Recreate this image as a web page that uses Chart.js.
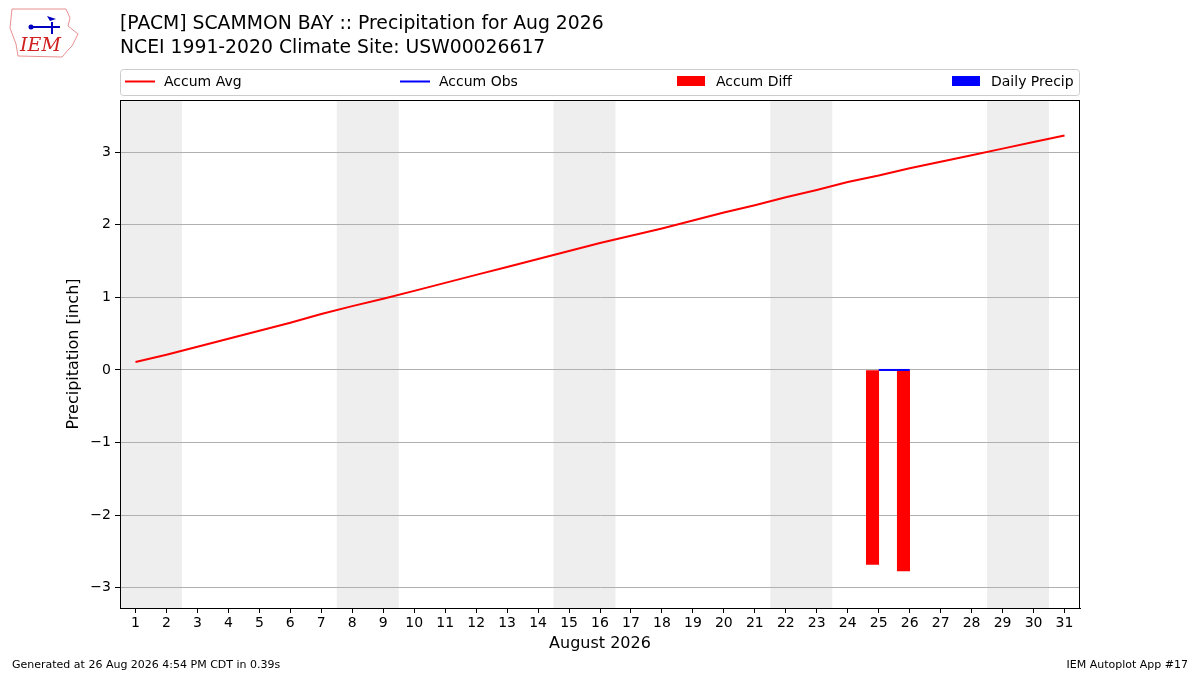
<!DOCTYPE html>
<html>
<head>
<meta charset="utf-8">
<script src="https://cdn.jsdelivr.net/npm/chart.js@4.4.1/dist/chart.umd.min.js"></script>
<style>
  html, body { margin: 0; padding: 0; background: #fff; }
  #wrap { width: 1200px; height: 675px; position: relative; }
</style>
</head>
<body>
<div id="wrap"><canvas id="precipChart" width="1200" height="675"></canvas></div>
<script>
(function() {
  var ctx = document.getElementById('precipChart');

  var fontFamily = '"DejaVu Sans", "Liberation Sans", sans-serif';

  /* days of the month and climatology accumulated average (inch) */
  var days = [1, 2, 3, 4, 5, 6, 7, 8, 9, 10, 11, 12, 13, 14, 15, 16,
              17, 18, 19, 20, 21, 22, 23, 24, 25, 26, 27, 28, 29, 30, 31];
  var accumAvg = [0.11, 0.21, 0.32, 0.43, 0.54, 0.65, 0.77, 0.88, 0.98, 1.09,
                  1.20, 1.31, 1.42, 1.53, 1.64, 1.75, 1.85, 1.95, 2.06, 2.17,
                  2.27, 2.38, 2.48, 2.59, 2.68, 2.78, 2.87, 2.96, 3.05, 3.14, 3.23];

  /* observed days only */
  var obsDays = [25, 26];
  var accumObs = [0.0, 0.0];
  var accumDiff = [-2.68, -2.77];
  var dailyPrecip = [0.0, 0.0];

  /* Saturdays / Sundays in Aug 2026 */
  var weekendStarts = [1, 8, 15, 22, 29];

  var yTicks = [-3, -2, -1, 0, 1, 2, 3];

  var titleLines = [
    '[PACM] SCAMMON BAY :: Precipitation for Aug 2026',
    'NCEI 1991-2020 Climate Site: USW00026617'
  ];
  var footerLeft = 'Generated at 26 Aug 2026 4:54 PM CDT in 0.39s';
  var footerRight = 'IEM Autoplot App #17';

  function pts(xs, ys, shift) {
    return xs.map(function(x, i) { return { x: x + (shift || 0), y: ys[i] }; });
  }

  function fmtTick(v) {
    return v < 0 ? '\u2212' + Math.abs(v) : String(v);
  }

  var legendItems = [
    { label: 'Accum Avg', color: '#ff0000', kind: 'line', x: 125 },
    { label: 'Accum Obs', color: '#0000ff', kind: 'line', x: 400 },
    { label: 'Accum Diff', color: '#ff0000', kind: 'box', x: 677 },
    { label: 'Daily Precip', color: '#0000ff', kind: 'box', x: 952 }
  ];

  var chart = new Chart(ctx, {
    data: {
      datasets: [
        {
          type: 'line',
          label: 'Accum Avg',
          data: pts(days, accumAvg),
          borderColor: '#ff0000',
          borderWidth: 2,
          pointRadius: 0,
          tension: 0,
          order: 3
        },
        {
          type: 'bar',
          label: 'Accum Diff',
          data: pts(obsDays, accumDiff, -0.2),
          backgroundColor: '#ff0000',
          barThickness: 12.4,
          grouped: false,
          order: 2
        },
        {
          type: 'bar',
          label: 'Daily Precip',
          /* zero-precip days draw nothing */
          data: pts(obsDays, dailyPrecip, 0.2).filter(function(p) { return p.y > 0; }),
          backgroundColor: '#0000ff',
          barThickness: 12.4,
          grouped: false,
          order: 2
        },
        {
          type: 'line',
          label: 'Accum Obs',
          data: pts(obsDays, accumObs),
          borderColor: '#0000ff',
          borderWidth: 2,
          pointRadius: 0,
          tension: 0,
          order: 1
        }
      ]
    },
    options: {
      responsive: false,
      devicePixelRatio: 1,
      animation: false,
      layout: { padding: { top: 100, right: 120, bottom: 0, left: 0 } },
      plugins: {
        legend: { display: false },
        title: { display: false },
        tooltip: { enabled: false }
      },
      scales: {
        x: {
          type: 'linear',
          offset: false,
          min: 0.5,
          max: 31.5,
          afterBuildTicks: function(axis) {
            axis.ticks = days.map(function(d) { return { value: d }; });
          },
          afterFit: function(axis) { axis.height = 67; },
          grid: {
            offset: false,
            drawOnChartArea: false,
            drawTicks: true,
            tickLength: 5,
            tickColor: '#000'
          },
          border: { display: true, color: '#000', width: 1 },
          ticks: {
            autoSkip: false,
            maxRotation: 0,
            padding: 2,
            color: '#000',
            font: { size: 14, family: fontFamily }
          }
        },
        y: {
          type: 'linear',
          min: -3.28,
          max: 3.72,
          afterBuildTicks: function(axis) {
            axis.ticks = yTicks.map(function(v) { return { value: v }; });
          },
          afterFit: function(axis) { axis.width = 120; },
          grid: {
            color: '#b0b0b0',
            lineWidth: 1,
            drawTicks: true,
            tickLength: 5,
            tickColor: '#000'
          },
          border: { display: true, color: '#000', width: 1 },
          ticks: {
            padding: 4,
            color: '#000',
            font: { size: 14, family: fontFamily },
            callback: function(v) { return fmtTick(v); }
          }
        }
      }
    },
    plugins: [{
      id: 'weekendShade',
      beforeDraw: function(c) {
        var g = c.ctx, xs = c.scales.x, area = c.chartArea;
        g.save();
        g.fillStyle = '#eeeeee';
        weekendStarts.forEach(function(d) {
          var x0 = xs.getPixelForValue(d - 0.5);
          var x1 = xs.getPixelForValue(d + 1.5);
          g.fillRect(x0, area.top, x1 - x0, area.bottom - area.top);
        });
        g.restore();
      }
    }, {
      id: 'decorations',
      afterDraw: function(c) {
        var g = c.ctx, area = c.chartArea;
        g.save();

        /* full frame around plot */
        g.strokeStyle = '#000';
        g.lineWidth = 1;
        g.strokeRect(area.left + 0.5, area.top + 0.5, area.right - area.left - 1, area.bottom - area.top);

        /* titles */
        g.fillStyle = '#000';
        g.textAlign = 'left';
        g.textBaseline = 'middle';
        g.font = '18.8px ' + fontFamily;
        g.fillText(titleLines[0], 120, 24);
        g.fillText(titleLines[1], 120, 48);

        /* legend */
        g.beginPath();
        g.strokeStyle = '#cccccc';
        g.lineWidth = 1;
        g.roundRect(120.5, 69.5, 959, 26, 3);
        g.stroke();
        g.font = '14px ' + fontFamily;
        legendItems.forEach(function(it) {
          if (it.kind === 'line') {
            g.strokeStyle = it.color;
            g.lineWidth = 2;
            g.beginPath();
            g.moveTo(it.x, 81.5);
            g.lineTo(it.x + 30, 81.5);
            g.stroke();
          } else {
            g.fillStyle = it.color;
            g.fillRect(it.x, 76, 28, 10);
          }
          g.fillStyle = '#000';
          g.fillText(it.label, it.x + 39, 82);
        });

        /* axis titles */
        g.font = '16px ' + fontFamily;
        g.textAlign = 'center';
        g.fillText('August 2026', (area.left + area.right) / 2, 644);
        g.save();
        g.translate(74, (area.top + area.bottom) / 2);
        g.rotate(-Math.PI / 2);
        g.fillText('Precipitation [inch]', 0, 0);
        g.restore();

        /* footer */
        g.font = '11px ' + fontFamily;
        g.textAlign = 'left';
        g.fillText(footerLeft, 12, 665);
        g.textAlign = 'right';
        g.fillText(footerRight, 1188, 665);

        /* rough IEM logo */
        g.strokeStyle = '#e89090';
        g.lineWidth = 1;
        g.beginPath();
        g.moveTo(12, 9);
        g.lineTo(66, 9);
        g.lineTo(70, 18);
        g.lineTo(68, 26);
        g.lineTo(78, 34);
        g.lineTo(72, 46);
        g.lineTo(68, 50);
        g.lineTo(62, 57);
        g.lineTo(18, 56);
        g.lineTo(16, 44);
        g.lineTo(10, 28);
        g.closePath();
        g.stroke();
        g.strokeStyle = '#0000c0';
        g.fillStyle = '#0000c0';
        g.lineWidth = 2;
        g.beginPath();
        g.moveTo(32, 27);
        g.lineTo(60, 27);
        g.moveTo(52, 22);
        g.lineTo(52, 34);
        g.stroke();
        g.beginPath();
        g.arc(31, 27, 2.5, 0, Math.PI * 2);
        g.fill();
        g.beginPath();
        g.moveTo(47, 16);
        g.lineTo(56, 19);
        g.lineTo(50, 21);
        g.closePath();
        g.fill();
        g.fillStyle = '#d02020';
        g.font = 'italic 19px "DejaVu Serif", "Liberation Serif", serif';
        g.textAlign = 'left';
        g.fillText('IEM', 20, 46);

        g.restore();
      }
    }]
  });
})();
</script>
</body>
</html>
